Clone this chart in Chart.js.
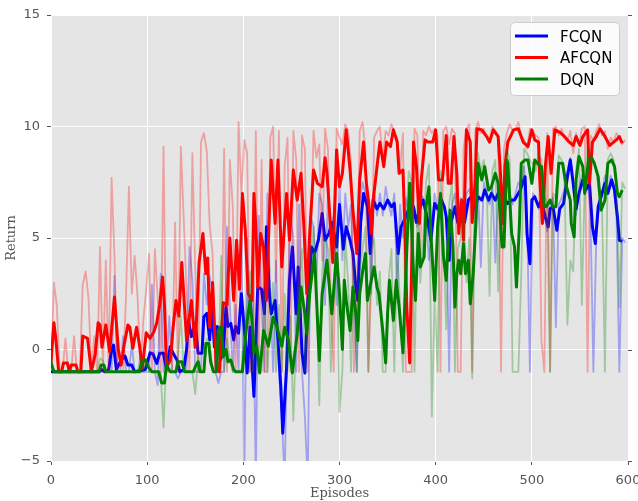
<!DOCTYPE html>
<html><head><meta charset="utf-8">
<script src="https://cdn.jsdelivr.net/npm/chart.js@4.4.0/dist/chart.umd.min.js"></script>
<style>html,body{margin:0;padding:0;background:#fff;}#wrap{width:638px;height:501px;}</style>
</head><body><div id="wrap"><canvas id="c" width="638" height="501"></canvas></div>
<script>
// ---- data ----
const seriesNames = ['FCQN', 'AFCQN', 'DQN'];
const xTicks = [0, 100, 200, 300, 400, 500, 600];
const yTicks = [-5, 0, 5, 10, 15];
const RAW_STEP = 3; // raw returns listed every 3 episodes, starting at episode 0

const fcqnRaw = [
 -1,-1,-1,-1,-1,-1,-1,-1,-1,-1,-1,-1,-1,-1,-1,-1,-1,-1,-1,-1,-1,-1,3.3,-1,-1,0.6,-1,-1,0.2,-1,-1,-1,-1,-1,
 -1,2.9,-1,-1.6,3.4,-1,-1,1.5,-1,-1,-1.3,-1,-1,-1,4.6,3.1,-1,-1,-1,3.4,2.0,3.3,2.5,-1,-1.5,-1,-1,5.5,2.0,-1,2.0,-1,5.4,
 -6,5.0,-1,3.0,-6,6.0,2.0,-1,7.0,2.5,-1,4.0,-1,-3.0,-6,2.0,6.0,5.0,-1,6.5,-1,-3,-6,6.0,5.5,3.0,7.0,6.5,2.0,7.2,5.5,6.0,2.0,7.5,
 4.0,7.0,5.5,6.5,2.0,-1,6.5,7.5,7.0,6.0,2.5,7.2,6.0,7.0,6.0,7.3,6.5,6.0,7.0,2.5,6.5,5.0,6.8,6.2,7.0,6.0,5.5,7.0,6.8,6.0,4.0,5.5,7.0,
 6.3,7.0,6.5,6.0,-1,6.5,7.0,5.5,6.8,5.5,7.0,7.2,6.5,6.0,7.3,3.7,7.5,7.0,6.5,7.3,3.9,7.2,7.5,6.8,6.5,7.0,6.5,7.0,7.5,7.2,8.2,6.0,-1,
 7.0,6.8,6.3,7.0,6.0,5.3,6.5,6.8,1.0,6.5,6.8,7.2,8.0,8.6,7.5,6.0,7.2,7.8,7.0,7.6,6.0,-1,5.0,6.5,7.0,7.8,7.0,7.8,7.3,6.0,-1,5.0,4.8
];
const afcqnRaw = [
 -1,3.0,2.0,-1,-1,0.5,-1,-1,0.6,-1,-1,2.9,3.5,2.3,-1,0.6,-1,4.6,-1,4.0,-1,7.7,4.2,-1,-1,-1,2.4,7.3,2.5,4.2,2.4,-1,1.3,2.7,
 4.3,-1,4.5,2.3,-1,9.1,-1,-1,-1,5.7,-1,9.1,5.9,2.6,-1,8.8,3.6,-1,9.3,9.7,8.9,5.6,4.3,-1,-1,-1,9.0,-1,8.5,6.4,-1,10.2,7.0,
 9.4,8.8,-1,-1,9.8,-1,8.5,-1,-1,9.5,10.0,3.0,9.8,-1,8.2,9.5,-1,9.8,8.5,-1,9.6,9.0,-1,4.5,9.8,8.6,9.2,4.0,9.9,9.0,2.0,-1,9.9,9.5,
 9.2,10.1,9.8,8.4,-1,2.0,9.8,10.2,9.0,-1,3.0,9.5,9.8,10.0,8.5,9.8,9.6,10.1,9.8,9.5,8.0,9.7,-1,-1,-1,9.9,9.6,4.0,9.8,9.6,10.0,9.7,9.9,
 9.6,-1,9.8,10.0,9.2,9.9,9.7,-1,-1,9.0,9.9,10.1,-1,9.8,10.2,9.7,9.9,9.6,9.4,10.0,9.8,9.6,-1,9.0,9.7,10.1,9.8,9.9,10.2,9.6,9.4,9.0,9.9,
 9.8,9.6,9.5,0.4,-1,9.7,-1,9.9,10.0,9.6,9.9,9.5,9.3,9.8,8.8,9.7,9.2,9.9,10.0,-1,9.6,9.4,9.8,10.1,9.6,9.8,9.0,9.5,9.3,9.7,9.5,9.2,9.4
];
const dqnRaw = [
 -0.2,-1,-1,-1,-1,-1,-1,-1,-1,-1,-1,-1,-1,-1,-1,-1,-1,-0.4,-0.5,-1,-1,-1,-1,-1,-1,-1,-1,-1,-1,-1,-1,-0.3,-1,-0.5,
 -1,-1,-1,-1,-1,-3.5,-0.3,-1,-1,-1,-0.3,1.5,-1,-1,-1,-1,-2.0,-0.3,-1,-1,0.5,0.3,-1,-1,-1,4.2,-1,0.5,-0.5,-1,-1,-1,-1,
 1.0,2.0,3.5,-1,1.0,-1,-1,2.5,-1,1.5,3.0,-1,2.0,-1,2.5,-1,1.5,-3.2,1.0,3.0,4.5,-1,2.0,3.5,5.5,3.0,-2.5,3.5,5.0,4.5,-1,3.0,5.5,-2.8,
 -1,5.0,3.0,-1,4.0,-1,3.5,4.5,5.5,-1,4.5,5.0,2.0,3.5,-1,-1,3.0,4.5,-1,4.5,2.0,-1,5.5,8.0,7.5,-1,6.5,3.0,5.0,7.5,8.3,-3.0,2.5,
 -1,8.0,5.0,0.9,6.5,7.5,-1,4.5,5.0,6.0,3.0,5.0,-1.3,6.0,8.8,8.0,8.5,7.5,2.4,8.0,8.5,2.6,7.0,5.0,9.0,8.5,-1,-1,-1,3.4,9.0,8.8,8.5,
 8.3,8.0,8.8,8.5,7.0,6.5,-1,7.0,6.8,8.7,8.5,7.5,1.1,4.0,3.5,8.0,9.0,2.0,7.5,9.0,8.8,8.5,8.0,7.0,6.5,-1,8.5,8.8,8.5,7.5,1.9,7.5,7.2
];

// smoothed curves: [episode, return]
const fcqnSmooth = [[0,-1],[50,-1],[53,-0.9],[56,-1],[60,-0.9],[63,0.0],[65,0.2],[68,-0.9],[73,-0.47],[77,-0.3],[80,-0.7],[84,-0.7],[87,-1],[98,-0.9],[103,-0.15],[106,-0.2],[110,-0.62],[113,-0.17],[117,-0.17],[120,-0.9],[124,0.12],[127,-0.17],[131,-0.47],[134,-1.0],[138,-0.9],[141,0],[143,1.3],[146,0.58],[150,1.17],[153,-0.17],[157,-0.17],[159,1.47],[162,1.62],[165,0.43],[167,1.9],[170,0.12],[173,1.03],[176,-0.47],[179,-0.17],[182,1.9],[184,1.03],[187,1.17],[190,0.43],[192,1.03],[195,0.73],[198,2.5],[202,0.4],[204,-1.05],[207,1.0],[211,-2.1],[215,2.8],[219,2.7],[222,1.6],[224,5.5],[227,2.5],[229,1.6],[233,2.2],[236,0.4],[239,-1.7],[241,-3.75],[245,-0.8],[248,3.1],[251,4.6],[255,1.6],[257,3.7],[261,-0.15],[264,-1.05],[267,2.2],[271,4.6],[274,4.3],[278,4.9],[282,6.1],[285,4.9],[289,5.2],[292,5.7],[297,4.6],[300,6.5],[304,4.5],[307,5.5],[311,4.9],[314,4.3],[317,2.8],[319,2.2],[322,5.7],[325,7.0],[329,6.4],[332,4.3],[335,6.7],[339,6.3],[342,6.55],[346,6.3],[350,6.7],[354,6.4],[357,6.55],[361,4.3],[364,5.5],[369,5.95],[373,6.4],[377,6.4],[380,5.7],[384,6.4],[387,6.7],[391,5.95],[395,4.9],[399,6.55],[402,6.3],[406,6.7],[409,6.4],[411,5.95],[414,4.0],[416,5.7],[420,6.4],[423,5.7],[427,6.3],[430,5.7],[434,6.7],[437,6.85],[441,6.3],[444,6.85],[448,6.7],[451,7.15],[455,6.7],[458,7.0],[462,6.7],[465,7.0],[469,7.15],[472,6.7],[475,6.55],[479,6.7],[482,6.7],[488,7.15],[493,7.75],[495,5.2],[498,3.85],[500,6.7],[503,6.85],[507,6.4],[510,6.7],[514,5.95],[517,5.5],[519,6.3],[522,6.4],[526,5.35],[529,6.3],[533,6.55],[537,7.75],[540,8.5],[543,7.45],[546,6.3],[549,7.0],[553,7.6],[556,7.15],[560,7.45],[563,5.5],[566,4.75],[569,6.4],[572,6.85],[576,7.45],[579,7.0],[583,7.6],[586,7.15],[589,5.95],[591,4.9],[594,4.85]];
const afcqnSmooth = [[0,-0.6],[3,1.2],[5,0.5],[8,-1],[11,-1],[13,-0.6],[17,-0.6],[19,-1],[21,-0.7],[26,-0.7],[28,-1],[31,-1],[33,0.6],[38,0.5],[42,-1],[46,-0.2],[49,1.2],[51,1.1],[53,0.1],[57,1.1],[61,-0.1],[66,2.35],[70,0],[73,-0.7],[76,0.2],[80,1.1],[82,1.0],[85,0.05],[89,1.0],[92,0.2],[95,-0.85],[99,0.75],[103,0.5],[107,0.8],[110,1.2],[113,2.0],[116,3.25],[118,2.0],[120,-0.8],[124,-0.5],[127,1.0],[130,2.2],[133,1.5],[136,3.9],[141,0.4],[146,2.2],[150,0.1],[154,3.9],[158,5.2],[161,3.4],[163,4.1],[165,1.0],[168,3.0],[172,-0.9],[175,-1],[179,2.1],[183,2.0],[186,5.0],[190,2.2],[193,4.9],[196,2.7],[199,7.0],[202,5.35],[205,2.5],[209,2.2],[211,7.0],[213,5.5],[215,2.8],[218,5.2],[221,4.6],[224,2.2],[229,8.5],[233,5.65],[236,8.5],[240,3.7],[245,7.0],[248,4.9],[252,8.05],[256,6.7],[260,7.9],[263,5.5],[266,2.5],[269,5.2],[273,8.05],[277,7.45],[282,7.3],[285,8.6],[287,7.9],[290,5.95],[293,3.9],[297,8.95],[300,7.3],[303,7.9],[307,9.85],[311,8.05],[314,6.25],[318,4.3],[321,7.6],[325,9.3],[328,7.45],[332,5.95],[333,5.2],[335,6.7],[339,8.2],[342,9.3],[346,8.2],[349,9.3],[353,9.1],[356,9.85],[360,9.3],[362,7.9],[366,8.05],[368,5.5],[370,1.9],[373,-0.6],[375,3.7],[377,9.3],[380,8.2],[383,5.65],[385,7.6],[389,9.4],[392,9.3],[397,9.3],[400,9.85],[403,7.6],[407,7.6],[411,9.6],[413,7.45],[416,7.45],[419,9.55],[422,7.9],[424,5.2],[427,6.7],[429,4.9],[432,9.85],[436,9.3],[438,5.7],[441,7.45],[443,9.9],[448,9.85],[453,9.55],[456,9.3],[460,9.85],[465,9.55],[467,8.2],[470,5.65],[472,8.2],[475,9.3],[481,9.85],[486,9.9],[491,9.3],[496,9.1],[500,9.85],[503,9.4],[507,9.3],[508,7.9],[511,5.65],[514,8.2],[517,9.55],[520,7.9],[524,9.85],[529,9.75],[534,9.55],[539,9.3],[543,9.15],[546,9.55],[550,9.15],[553,9.55],[558,9.85],[560,7.45],[563,9.3],[567,9.55],[571,9.9],[576,9.55],[581,9.15],[585,9.3],[588,9.4],[591,9.55],[594,9.25]];
const dqnSmooth = [[0,-0.6],[3,-1],[50,-1],[52,-0.7],[55,-0.7],[57,-1],[92,-1],[94,-0.62],[98,-0.45],[101,-0.77],[105,-1],[112,-1],[115,-1.5],[118,-1.5],[120,-0.7],[124,-1],[130,-1],[132,-0.55],[136,-0.55],[139,-1],[148,-1],[150,-0.77],[153,-0.55],[155,-1],[159,-1],[161,0.27],[164,0.27],[166,-0.55],[169,-1],[172,-1],[174,0.87],[177,1.03],[179,-0.32],[182,0],[184,-0.55],[187,-0.47],[190,-0.9],[192,-1],[199,-1],[202,0.43],[204,1.3],[207,2.2],[209,1.3],[211,-0.15],[214,0.15],[217,-1.05],[221,0.85],[226,0.15],[231,1.45],[235,1.0],[240,0.15],[243,1.0],[247,0.4],[251,-1.05],[256,0.7],[260,2.8],[264,1.6],[266,0.7],[269,2.5],[274,4.3],[279,-0.5],[282,2.5],[287,4.0],[292,1.6],[297,4.3],[300,2.5],[303,0.0],[305,3.1],[307,2.2],[311,0.85],[314,2.8],[317,1.6],[319,0.4],[321,2.5],[324,3.5],[327,4.3],[329,2.2],[333,3.1],[336,3.7],[339,2.8],[341,2.5],[345,0.85],[348,-0.6],[350,1.6],[352,3.1],[356,1.3],[359,3.1],[362,1.9],[366,-0.15],[370,4.5],[373,7.45],[377,3.4],[379,2.2],[382,5.2],[384,3.7],[388,4.15],[390,6.4],[393,7.3],[395,5.2],[399,2.2],[402,5.5],[405,7.0],[408,4.2],[411,3.1],[413,4.9],[415,6.25],[418,4.6],[420,1.9],[422,3.4],[424,4.0],[426,3.4],[429,4.75],[431,3.4],[434,4.0],[436,2.05],[439,3.4],[442,5.8],[444,8.35],[448,7.6],[451,8.2],[455,7.15],[458,7.3],[462,7.9],[465,7.45],[469,4.6],[471,4.6],[474,8.5],[475,8.35],[479,5.2],[482,4.6],[484,2.8],[487,5.5],[489,8.35],[493,8.5],[496,8.5],[500,7.45],[503,8.5],[507,8.3],[510,8.2],[513,6.4],[515,6.4],[519,6.7],[522,6.4],[525,6.4],[528,8.35],[532,8.35],[536,7.3],[540,6.7],[541,5.65],[544,5.05],[546,7.6],[549,8.65],[553,8.2],[555,7.0],[559,8.5],[562,8.6],[565,8.35],[569,7.75],[572,6.25],[576,6.7],[579,8.35],[583,8.5],[586,8.2],[589,7.0],[591,6.85],[594,7.15]];

// ---- styles ----
const colors = {FCQN: '#0000ff', AFCQN: '#ff0000', DQN: '#008000'};
const faint = {FCQN: 'rgba(0,0,255,0.3)', AFCQN: 'rgba(255,0,0,0.3)', DQN: 'rgba(0,128,0,0.3)'};

function rawPts(vals) { return vals.map((v, i) => ({x: i * RAW_STEP, y: v})); }
function pairPts(p) { return p.map(q => ({x: q[0], y: q[1]})); }

const rawBy = {FCQN: fcqnRaw, AFCQN: afcqnRaw, DQN: dqnRaw};
const smoothBy = {FCQN: fcqnSmooth, AFCQN: afcqnSmooth, DQN: dqnSmooth};

const datasets = [];
let ord = 10;
seriesNames.forEach(name => {
  datasets.push({label: name + ' raw', data: rawPts(rawBy[name]), borderColor: faint[name], borderWidth: 1.8,
    pointRadius: 0, fill: false, tension: 0, borderJoinStyle: 'round', order: ord--});
  datasets.push({label: name, data: pairPts(smoothBy[name]), borderColor: colors[name], borderWidth: 3,
    pointRadius: 0, fill: false, tension: 0, borderJoinStyle: 'round', order: ord--});
});

const bgPlugin = {
  id: 'bg',
  beforeDraw(chart) {
    const {ctx, chartArea: a} = chart;
    ctx.save();
    ctx.fillStyle = '#e5e5e5';
    ctx.fillRect(a.left, a.top, a.right - a.left, a.bottom - a.top);
    ctx.restore();
  }
};

const extrasPlugin = {
  id: 'extras',
  afterDraw(chart) {
    const {ctx, chartArea: a, scales} = chart;
    ctx.save();
    // right-side tick marks
    ctx.strokeStyle = '#555';
    ctx.lineWidth = 1;
    yTicks.forEach(v => {
      const y = Math.round(scales.y.getPixelForValue(v)) + 0.5;
      ctx.beginPath(); ctx.moveTo(a.right, y); ctx.lineTo(a.right + 4, y); ctx.stroke();
    });
    // legend
    const lx = 510.5, ly = 22.5, lw = 109, lh = 73, r = 4;
    ctx.beginPath();
    ctx.moveTo(lx + r, ly); ctx.lineTo(lx + lw - r, ly); ctx.quadraticCurveTo(lx + lw, ly, lx + lw, ly + r);
    ctx.lineTo(lx + lw, ly + lh - r); ctx.quadraticCurveTo(lx + lw, ly + lh, lx + lw - r, ly + lh);
    ctx.lineTo(lx + r, ly + lh); ctx.quadraticCurveTo(lx, ly + lh, lx, ly + lh - r);
    ctx.lineTo(lx, ly + r); ctx.quadraticCurveTo(lx, ly, lx + r, ly); ctx.closePath();
    ctx.fillStyle = 'rgba(255,255,255,0.85)';
    ctx.fill();
    ctx.strokeStyle = '#cccccc';
    ctx.stroke();
    const rows = [36, 57.5, 79];
    seriesNames.forEach((name, i) => {
      ctx.strokeStyle = colors[name];
      ctx.lineWidth = 3;
      ctx.beginPath(); ctx.moveTo(515, rows[i]); ctx.lineTo(548, rows[i]); ctx.stroke();
      ctx.fillStyle = '#000';
      ctx.font = '15px "DejaVu Sans"';
      ctx.textBaseline = 'alphabetic';
      ctx.textAlign = 'left';
      ctx.fillText(name, 560, rows[i] + 5.5);
    });
    ctx.restore();
  }
};

new Chart(document.getElementById('c'), {
  type: 'line',
  data: {datasets},
  plugins: [bgPlugin, extrasPlugin],
  options: {
    responsive: false,
    animation: false,
    devicePixelRatio: 1,
    layout: {padding: {left: 0, right: 10, top: 15, bottom: 0}},
    plugins: {legend: {display: false}, tooltip: {enabled: false}},
    scales: {
      x: {
        type: 'linear', min: 0, max: 600,
        afterBuildTicks(s) { s.ticks = xTicks.map(v => ({value: v})); },
        ticks: {color: '#555', font: {family: 'DejaVu Sans', size: 13}, padding: 8, maxRotation: 0, autoSkip: false},
        grid: {color: '#ffffff', lineWidth: 1, drawTicks: true, tickLength: 4, tickColor: '#555', tickWidth: 1},
        border: {display: false},
        title: {display: true, text: 'Episodes', color: '#555', font: {family: 'DejaVu Serif', size: 13}, padding: {top: 0, bottom: 0}},
        afterFit(s) { s.height = 40; s.paddingLeft = 0; s.paddingRight = 0; }
      },
      y: {
        type: 'linear', min: -5, max: 15,
        afterBuildTicks(s) { s.ticks = yTicks.map(v => ({value: v})); },
        ticks: {color: '#555', font: {family: 'DejaVu Sans', size: 13}, padding: 7,
          callback: v => String(v).replace('-', '\u2212')},
        grid: {color: '#ffffff', lineWidth: 1, drawTicks: true, tickLength: 4, tickColor: '#555', tickWidth: 1},
        border: {display: false},
        title: {display: true, text: 'Return', color: '#555', font: {family: 'DejaVu Serif', size: 13}, padding: {top: 4, bottom: 0}},
        afterFit(s) { s.width = 51; s.paddingTop = 0; s.paddingBottom = 0; }
      }
    }
  }
});
</script></body></html>
